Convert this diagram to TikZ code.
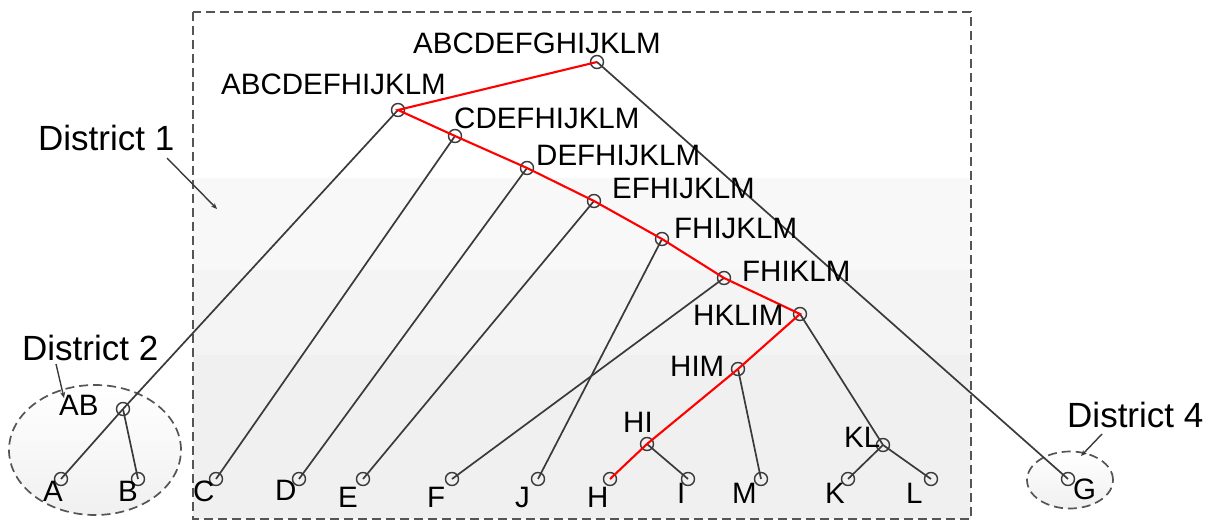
\documentclass[tikz,border=0pt]{standalone}
\usepackage{fontspec}
\setmainfont{Liberation Sans}
\usetikzlibrary{arrows.meta,shapes.geometric}
\definecolor{edgegray}{HTML}{3A3A3A}
\definecolor{dashgray}{HTML}{555555}
\definecolor{bandA}{HTML}{F8F8F8}
\definecolor{bandB}{HTML}{F4F4F4}
\definecolor{bandC}{HTML}{F0F0F0}
\tikzset{
  vtx/.style={circle,draw=edgegray,line width=1.4pt,minimum size=13pt,inner sep=0pt},
  lbl/.style={anchor=base west,inner sep=0pt,font=\fontsize{29.5}{30}\selectfont},
  dlbl/.style={anchor=base west,inner sep=0pt,font=\fontsize{35}{36}\selectfont},
  edge/.style={draw=edgegray,line width=1.7pt},
  hot/.style={draw=red,line width=2.1pt},
  district/.style={draw=dashgray,line width=1.7pt,dash pattern=on 9pt off 5pt},
  pointer/.style={draw=edgegray,line width=1.4pt,-{Stealth[length=6pt,width=5pt]}}
}
\begin{document}
\begin{tikzpicture}[x=1pt,y=-1pt]
\useasboundingbox (0,0) rectangle (1216,521);
% background bands
\fill[white] (193,12) rectangle (971,178);
\fill[bandA] (193,178) rectangle (971,270);
\fill[bandB] (193,270) rectangle (971,355);
\fill[bandC] (193,355) rectangle (971,519);
\draw[district] (193,12) rectangle (971,519);
% district ellipses
\node[ellipse,district,top color=white,bottom color=bandC,minimum width=172pt,minimum height=130pt,inner sep=0pt] (dist2) at (95,450) {};
\node[ellipse,district,top color=white,bottom color=bandC,minimum width=86pt,minimum height=57pt,inner sep=0pt] (dist4) at (1070,480) {};
% vertices
\node[vtx] (root) at (597,62) {};
\node[vtx] (n12) at (398,110) {};
\node[vtx] (n10) at (455,136) {};
\node[vtx] (n9) at (527,168) {};
\node[vtx] (n8) at (594,201) {};
\node[vtx] (n7) at (662,239) {};
\node[vtx] (n6) at (724,278) {};
\node[vtx] (n5) at (800,314) {};
\node[vtx] (n3) at (738,369) {};
\node[vtx] (nhi) at (647,444) {};
\node[vtx] (nkl) at (883,445) {};
\node[vtx] (nab) at (123,409) {};
\node[vtx] (a) at (61,479) {};
\node[vtx] (b) at (138,479) {};
\node[vtx] (c) at (216,479) {};
\node[vtx] (d) at (299,479) {};
\node[vtx] (e) at (363,479) {};
\node[vtx] (f) at (452,479) {};
\node[vtx] (j) at (538,479) {};
\node[vtx] (h) at (610,479) {};
\node[vtx] (i) at (688,479) {};
\node[vtx] (m) at (761,479) {};
\node[vtx] (k) at (848,479) {};
\node[vtx] (l) at (931,479) {};
\node[vtx] (g) at (1068,479) {};
% edges
\path[edge] (root.center) -- (g.center);
\path[edge] (n12.center) -- (nab.center);
\path[edge] (nab.center) -- (a.center);
\path[edge] (nab.center) -- (b.center);
\path[edge] (n10.center) -- (c.center);
\path[edge] (n9.center) -- (d.center);
\path[edge] (n8.center) -- (e.center);
\path[edge] (n7.center) -- (j.center);
\path[edge] (n6.center) -- (f.center);
\path[edge] (n5.center) -- (nkl.center);
\path[edge] (n3.center) -- (m.center);
\path[edge] (nhi.center) -- (i.center);
\path[edge] (nkl.center) -- (k.center);
\path[edge] (nkl.center) -- (l.center);
\path[hot] (root.center) -- (n12.center) -- (n10.center) -- (n9.center) -- (n8.center) -- (n7.center) -- (n6.center) -- (n5.center) -- (n3.center) -- (nhi.center) -- (h.center);
% internal labels
\node[lbl] (troot) at (413,54) {ABCDEFGHIJKLM};
\node[lbl] (t12) at (221,95) {ABCDEFHIJKLM};
\node[lbl] (t10) at (454,129) {CDEFHIJKLM};
\node[lbl] (t9) at (536,166) {DEFHIJKLM};
\node[lbl] (t8) at (612,199) {EFHIJKLM};
\node[lbl] (t7) at (674,239) {FHIJKLM};
\node[lbl] (t6) at (742,282) {FHIKLM};
\node[lbl] (t5) at (693,326) {HKLIM};
\node[lbl] (t3) at (670,377) {HIM};
\node[lbl] (thi) at (623,432) {HI};
\node[lbl] (tkl) at (844,447) {KL};
\node[lbl] (tab) at (59,415) {AB};
% leaf labels
\node[lbl] (ta) at (43,501) {A};
\node[lbl] (tb) at (118,501) {B};
\node[lbl] (tc) at (193,501) {C};
\node[lbl] (td) at (275,500) {D};
\node[lbl] (te) at (338,507) {E};
\node[lbl] (tf) at (427,507) {F};
\node[lbl] (tj) at (515,507) {J};
\node[lbl] (th) at (587,507) {H};
\node[lbl] (ti) at (677,503) {I};
\node[lbl] (tm) at (732,503) {M};
\node[lbl] (tk) at (825,503) {K};
\node[lbl] (tl) at (906,503) {L};
\node[lbl] (tg) at (1073,499) {G};
% district labels and pointers
\node[dlbl] (d1) at (38,151) {District 1};
\node[dlbl] (d2) at (22,360) {District 2};
\node[dlbl] (d4) at (1067,428) {District 4};
\coordinate (d1s) at (167,158);
\coordinate (d1e) at (217,209);
\coordinate (d2s) at (56,364);
\coordinate (d2e) at (64,398);
\coordinate (d4s) at (1102,434);
\coordinate (d4e) at (1081,456);
\draw[pointer] (d1s) -- (d1e);
\draw[pointer] (d2s) -- (d2e);
\draw[pointer] (d4s) -- (d4e);
\end{tikzpicture}
\end{document}
